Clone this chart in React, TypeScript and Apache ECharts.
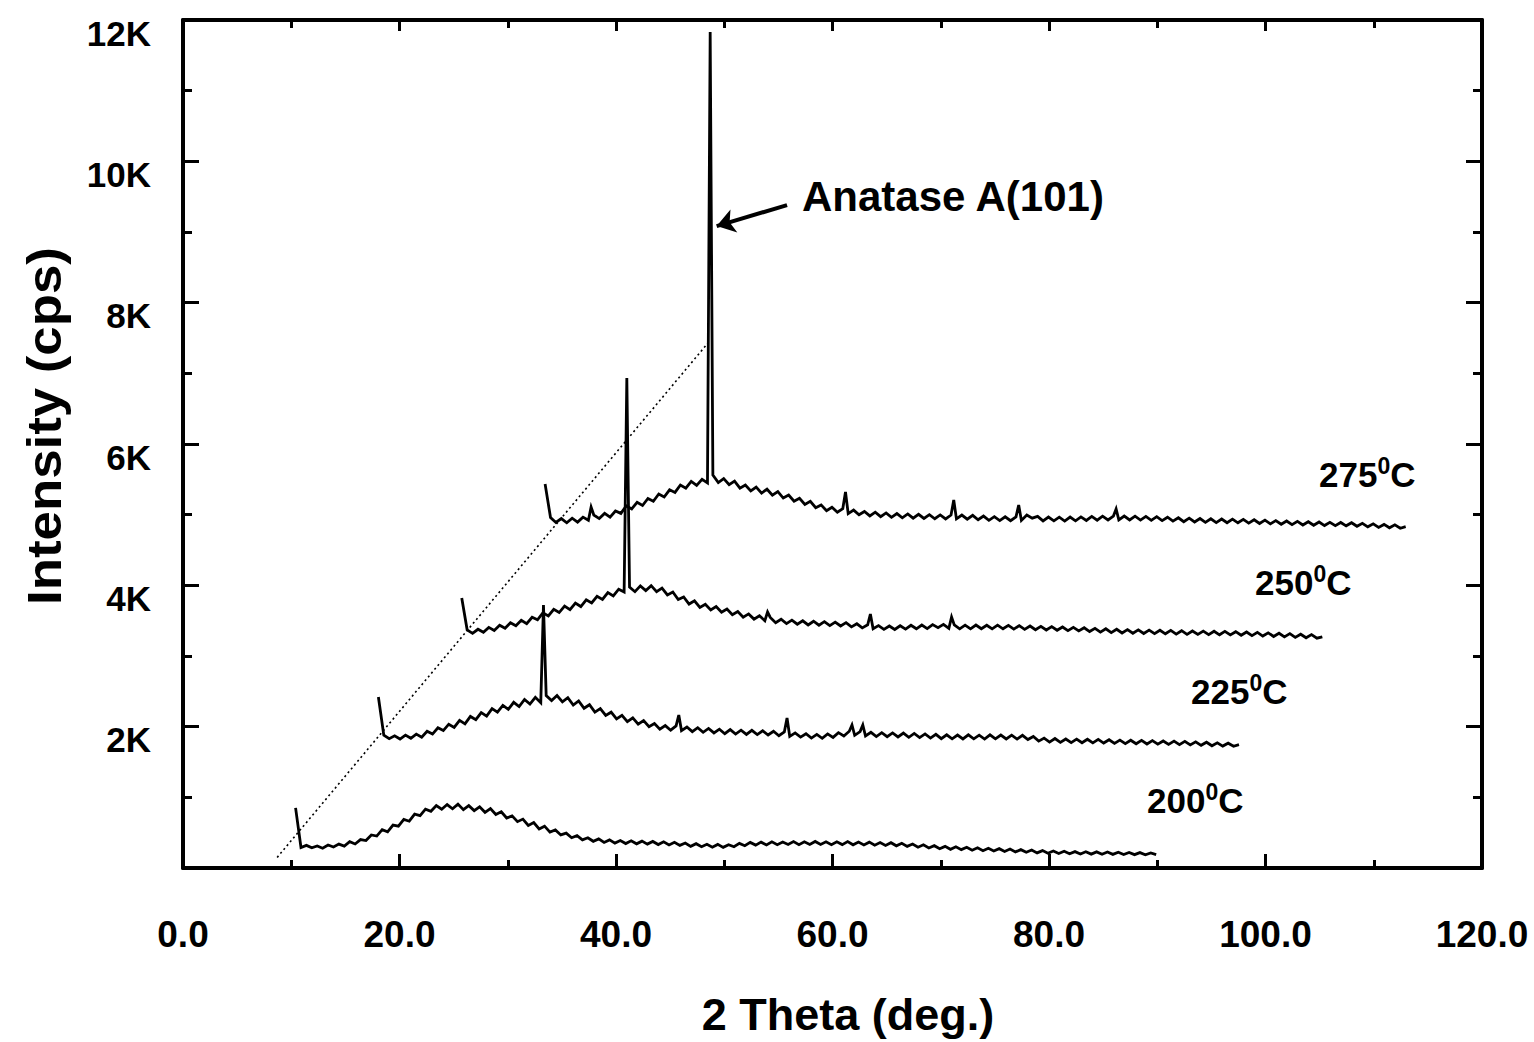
import React, { useEffect, useRef } from "react";
import * as echarts from "echarts";

// Stacked XRD scans of films annealed at four temperatures.
// Each scan is stored as counts on a 0.5 deg grid, already shifted for the waterfall view.
const SCAN_STEP = 0.5;
const tempLabels = ["200", "225", "250", "275"];
const scanStarts = [10.4, 18.05, 25.75, 33.45];

const counts200 = [
  850, 290, 320, 285, 312, 280, 325, 296, 338, 310, 372, 340, 402, 388, 468, 452, 542, 512, 608, 592,
  688, 662, 762, 742, 832, 802, 884, 832, 898, 838, 904, 826, 882, 812, 866, 788, 842, 758, 796, 708,
  738, 656, 692, 602, 642, 552, 592, 508, 538, 468, 494, 428, 458, 398, 428, 378, 412, 362, 398, 352,
  388, 346, 384, 342, 380, 338, 376, 332, 370, 326, 364, 320, 354, 306, 344, 302, 336, 294, 334, 292,
  330, 300, 348, 316, 362, 324, 366, 326, 370, 330, 368, 332, 374, 331, 372, 334, 376, 334, 370, 330,
  370, 331, 374, 328, 368, 326, 366, 322, 360, 320, 358, 314, 350, 306, 340, 294, 328, 284, 316, 272,
  306, 264, 300, 260, 294, 252, 286, 244, 280, 240, 274, 234, 268, 228, 260, 222, 254, 214, 246, 208,
  240, 205, 236, 202, 232, 198, 230, 196, 228, 195, 226, 193, 224, 191, 220, 189, 218, 187, 214, 190,
];
const reflections200: number[][] = [];

const counts225 = [
  2420, 1880, 1830, 1870, 1825, 1880, 1835, 1895, 1850, 1935, 1895, 1985, 1945, 2035, 1990, 2090, 2040, 2145, 2100, 2200,
  2150, 2255, 2205, 2300, 2245, 2345, 2285, 2385, 2320, 2415, 2340, 2440, 2370, 2440, 2350, 2410, 2305, 2365, 2260, 2310,
  2205, 2255, 2160, 2205, 2110, 2160, 2070, 2125, 2035, 2085, 2000, 2045, 1965, 2015, 1950, 2010, 1945, 1995, 1930, 1985,
  1920, 1975, 1912, 1965, 1900, 1958, 1895, 1950, 1890, 1948, 1888, 1942, 1882, 1935, 1872, 1925, 1862, 1912, 1852, 1900,
  1838, 1890, 1835, 1898, 1848, 1915, 1868, 1935, 1878, 1930, 1868, 1920, 1860, 1915, 1858, 1912, 1855, 1910, 1850, 1905,
  1845, 1898, 1838, 1892, 1830, 1885, 1828, 1882, 1826, 1884, 1828, 1880, 1825, 1885, 1828, 1882, 1826, 1880, 1824, 1878,
  1818, 1862, 1795, 1838, 1782, 1832, 1778, 1826, 1775, 1824, 1772, 1822, 1770, 1820, 1768, 1815, 1764, 1810, 1760, 1808,
  1758, 1806, 1755, 1802, 1752, 1798, 1750, 1795, 1746, 1792, 1742, 1786, 1736, 1780, 1730, 1772, 1725, 1766, 1722, 1745,
];
const reflections225 = [
  [33.3, 3722],
  [45.8, 2165],
  [55.8, 2122],
  [61.8, 2024],
  [62.8, 2024],
];

const counts250 = [
  3821, 3370, 3320, 3378, 3335, 3405, 3362, 3435, 3392, 3470, 3428, 3505, 3458, 3548, 3512, 3610, 3568, 3660, 3615, 3705,
  3655, 3748, 3700, 3795, 3750, 3845, 3800, 3898, 3850, 3945, 3905, 3975, 3910, 3992, 3925, 3995, 3910, 3960, 3865, 3905,
  3800, 3835, 3735, 3780, 3688, 3732, 3652, 3700, 3620, 3665, 3585, 3630, 3550, 3596, 3522, 3570, 3500, 3545, 3472, 3520,
  3458, 3508, 3450, 3498, 3440, 3492, 3436, 3486, 3430, 3480, 3425, 3472, 3412, 3456, 3398, 3442, 3386, 3430, 3376, 3425,
  3375, 3428, 3380, 3435, 3385, 3438, 3388, 3445, 3400, 3448, 3390, 3440, 3385, 3436, 3384, 3438, 3386, 3435, 3384, 3436,
  3385, 3434, 3380, 3430, 3376, 3424, 3372, 3420, 3368, 3416, 3364, 3410, 3358, 3405, 3355, 3400, 3346, 3392, 3338, 3385,
  3330, 3378, 3326, 3374, 3322, 3370, 3318, 3366, 3316, 3364, 3314, 3362, 3310, 3358, 3306, 3354, 3305, 3352, 3302, 3350,
  3300, 3348, 3298, 3344, 3294, 3340, 3288, 3334, 3282, 3328, 3276, 3322, 3270, 3316, 3264, 3308, 3258, 3302, 3252, 3272,
];
const reflections250 = [
  [41.0, 6934],
  [54.0, 3622],
  [63.5, 3594],
  [71.0, 3552],
];

const counts275 = [
  5434, 4960, 4890, 4945, 4885, 4950, 4895, 4965, 4920, 4995, 4945, 5018, 4965, 5052, 5018, 5125, 5082, 5175, 5130, 5230,
  5190, 5292, 5250, 5352, 5315, 5420, 5375, 5470, 5415, 5500, 5450, 5560, 5455, 5510, 5425, 5475, 5375, 5420, 5335, 5390,
  5305, 5360, 5275, 5325, 5235, 5278, 5190, 5232, 5145, 5188, 5098, 5138, 5055, 5105, 5035, 5085, 5015, 5065, 4998, 5045,
  4982, 5035, 4972, 5025, 4962, 5015, 4955, 5010, 4950, 5005, 4946, 5000, 4942, 4996, 4940, 4995, 4940, 4994, 4936, 4990,
  4928, 4980, 4920, 4972, 4916, 4970, 4914, 4968, 4918, 4995, 4950, 4975, 4912, 4966, 4912, 4965, 4910, 4966, 4912, 4968,
  4918, 4975, 4922, 4978, 4925, 4980, 4926, 4980, 4925, 4978, 4924, 4976, 4920, 4972, 4916, 4964, 4908, 4956, 4900, 4950,
  4896, 4946, 4892, 4942, 4888, 4938, 4886, 4936, 4885, 4934, 4880, 4928, 4875, 4922, 4870, 4916, 4864, 4910, 4858, 4905,
  4854, 4900, 4850, 4896, 4846, 4892, 4845, 4890, 4842, 4886, 4836, 4878, 4828, 4870, 4820, 4862, 4814, 4856, 4808, 4830,
];
const reflections275 = [
  [37.7, 5108],
  [48.7, 11830],
  [61.2, 5321],
  [71.2, 5207],
  [77.2, 5137],
  [86.2, 5080],
];

const scanCounts = [counts200, counts225, counts250, counts275];
const scanReflections = [reflections200, reflections225, reflections250, reflections275];

// Guide through the start of each scan, and the arrow pointing at the A(101) reflection
const guideLine = [
  [8.7, 150],
  [48.5, 7430],
];
const arrowFrom = [55.8, 9381];
const arrowTo = [49.3, 9084];

const xTicks = { min: 0, max: 120, interval: 20 };
const yTicks = { min: 0, max: 12000, interval: 2000 };

const FONT = "'Liberation Sans', Arial, Helvetica, sans-serif";

function buildScan(idx: number): number[][] {
  const start = scanStarts[idx];
  const pts = scanCounts[idx].map((c, i) => [start + i * SCAN_STEP, c]);
  return pts.concat(scanReflections[idx]).sort((a, b) => a[0] - b[0]);
}

function tempText(t: string) {
  return `{n|${t}}{s|0}{n|C}`;
}

const App: React.FC = () => {
  const ref = useRef<HTMLDivElement>(null);

  useEffect(() => {
    if (!ref.current) return;
    const chart = echarts.init(ref.current, undefined, { renderer: "svg" });

    const black = "#000";
    const baseX = (position: "bottom" | "top", labels: boolean) => ({
      type: "value" as const,
      position,
      min: xTicks.min,
      max: xTicks.max,
      interval: xTicks.interval,
      axisLine: { show: true, onZero: false, lineStyle: { color: black, width: 4 } },
      axisTick: { show: true, inside: true, length: position === "bottom" ? 14 : 11, lineStyle: { color: black, width: 3 } },
      minorTick: { show: true, splitNumber: 2, length: 8, lineStyle: { color: black, width: 3 } },
      splitLine: { show: false },
      minorSplitLine: { show: false },
      axisLabel: labels
        ? {
            show: true,
            margin: 48,
            color: black,
            fontSize: 37,
            fontWeight: "bold" as const,
            fontFamily: FONT,
            formatter: (v: number) => v.toFixed(1),
          }
        : { show: false },
    });
    const baseY = (position: "left" | "right", labels: boolean) => ({
      type: "value" as const,
      position,
      min: yTicks.min,
      max: yTicks.max,
      interval: yTicks.interval,
      axisLine: { show: true, onZero: false, lineStyle: { color: black, width: 4 } },
      axisTick: { show: true, inside: true, length: 16, lineStyle: { color: black, width: 3 } },
      minorTick: { show: true, splitNumber: 2, length: 9, lineStyle: { color: black, width: 3 } },
      splitLine: { show: false },
      minorSplitLine: { show: false },
      axisLabel: labels
        ? {
            show: true,
            margin: 32,
            color: black,
            fontSize: 35,
            fontWeight: "bold" as const,
            fontFamily: FONT,
            verticalAlign: "top" as const,
            lineHeight: 26,
            formatter: (v: number) => (v === 0 ? "" : `${v / 1000}K`),
          }
        : { show: false },
    });

    const scanSeries = tempLabels.map((t, i) => ({
      name: `${t} C`,
      type: "line" as const,
      data: buildScan(i),
      symbol: "none",
      showSymbol: false,
      lineStyle: { color: black, width: 2.8, join: "miter" as const },
      z: 3,
    }));

    const rich = {
      n: { fontSize: 35, fontWeight: "bold" as const, fontFamily: FONT, fill: black, lineHeight: 40 },
      s: { fontSize: 23, fontWeight: "bold" as const, fontFamily: FONT, fill: black, lineHeight: 18, verticalAlign: "top" as const },
    };
    const tempPos = [
      [1147, 800],
      [1191, 691],
      [1255, 582],
      [1319, 474],
    ];

    chart.setOption({
      animation: false,
      backgroundColor: "#fff",
      grid: { left: 183, right: 52, top: 20, bottom: 174, containLabel: false },
      xAxis: [baseX("bottom", true), baseX("top", false)],
      yAxis: [baseY("left", true), baseY("right", false)],
      series: [
        ...scanSeries,
        {
          name: "guide",
          type: "line",
          data: guideLine,
          symbol: "none",
          lineStyle: { color: black, width: 1.6, type: [2, 3] },
          z: 2,
          markLine: {
            silent: true,
            symbol: ["none", "arrow"],
            symbolSize: 18,
            label: { show: false },
            lineStyle: { color: black, width: 4, type: "solid" },
            data: [[{ coord: arrowFrom }, { coord: arrowTo }]],
          },
        },
      ],
      graphic: [
        {
          type: "text",
          x: 802,
          y: 196,
          style: {
            text: "Anatase A(101)",
            font: `bold 42px ${FONT}`,
            fill: black,
            textAlign: "left",
            textVerticalAlign: "middle",
          },
        },
        ...tempLabels.map((t, i) => ({
          type: "text",
          x: tempPos[i][0],
          y: tempPos[i][1],
          style: {
            text: tempText(t),
            rich,
            fill: black,
            textAlign: "left",
            textVerticalAlign: "middle",
          },
        })),
        {
          type: "text",
          x: 44,
          y: 426,
          rotation: Math.PI / 2,
          scaleX: 1.1,
          style: {
            text: "Intensity (cps)",
            font: `bold 48px ${FONT}`,
            fill: black,
            textAlign: "center",
            textVerticalAlign: "middle",
          },
        },
        {
          type: "text",
          x: 848,
          y: 1014,
          style: {
            text: "2 Theta (deg.)",
            font: `bold 45px ${FONT}`,
            fill: black,
            textAlign: "center",
            textVerticalAlign: "middle",
          },
        },
      ],
    });

    return () => chart.dispose();
  }, []);

  return (
    <div
      ref={ref}
      style={{ position: "fixed", left: 0, top: 0, width: 1534, height: 1042, background: "#fff" }}
    />
  );
};

export default App;
